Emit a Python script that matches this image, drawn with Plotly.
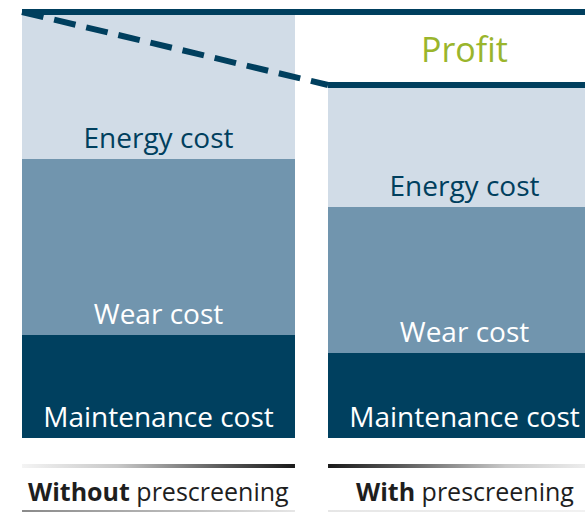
import plotly.graph_objects as go

# ---- data (arbitrary units) ----
scenarios = ["Without prescreening", "With prescreening"]
scenario_bold = ["Without", "With"]
scenario_rest = ["prescreening", "prescreening"]
maintenance = [103, 85]
wear = [176, 146]
energy = [147, 122]
revenue = 426
segment_names = ["Maintenance cost", "Wear cost", "Energy cost"]
profit_label = "Profit"

# ---- styles ----
NAVY = "#003f5e"
C_MAINT = "#00405f"
C_WEAR = "#7195ae"
C_ENERGY = "#d1dce7"
GREEN = "#9ab52c"
FONT = "Open Sans"
BAR_W = 0.892
xs = [0, 1]

W, H = 585, 513

fig = go.Figure()

segs = [
    (maintenance, C_MAINT, "white", segment_names[0]),
    (wear, C_WEAR, "white", segment_names[1]),
    (energy, C_ENERGY, NAVY, segment_names[2]),
]
for vals, col, tcol, name in segs:
    fig.add_trace(go.Bar(
        x=xs, y=vals, width=BAR_W, marker=dict(color=col, line=dict(width=0)),
        text=[name] * len(xs), textposition="inside", insidetextanchor="start",
        textangle=0, constraintext="none",
        insidetextfont=dict(family=FONT, size=28, color=tcol, weight=500),
        hoverinfo="skip", showlegend=False,
    ))

totals = [m + w + e for m, w, e in zip(maintenance, wear, energy)]
left0 = xs[0] - BAR_W / 2
left1 = xs[1] - BAR_W / 2

# revenue line across top
fig.add_trace(go.Scatter(x=[left0, 2], y=[revenue, revenue], mode="lines",
                         line=dict(color=NAVY, width=6), hoverinfo="skip", showlegend=False))
# dashed transition line
fig.add_trace(go.Scatter(x=[left0, left1], y=[totals[0], totals[1]], mode="lines",
                         line=dict(color=NAVY, width=6, dash="22px,11px"),
                         hoverinfo="skip", showlegend=False))
# right bar top line
fig.add_trace(go.Scatter(x=[left1, 2], y=[totals[1], totals[1]], mode="lines",
                         line=dict(color=NAVY, width=6), hoverinfo="skip", showlegend=False))

# gradient rules under bars
def grad_rule(x0, x1, ytop, ybot, scale):
    fig.add_trace(go.Scatter(
        x=[x0, x1, x1, x0, x0], y=[ytop, ytop, ybot, ybot, ytop],
        mode="lines", line=dict(width=0), fill="toself",
        fillgradient=dict(type="horizontal", colorscale=scale),
        hoverinfo="skip", showlegend=False))

grad_rule(xs[0] - BAR_W / 2, xs[0] + BAR_W / 2, -26, -30,
          [[0, "#f4f4f4"], [0.35, "#c8c8c8"], [0.75, "#555555"], [1, "#1a1a1a"]])
grad_rule(xs[1] - BAR_W / 2, xs[1] + BAR_W / 2, -26, -30,
          [[0, "#1a1a1a"], [0.25, "#555555"], [0.65, "#c8c8c8"], [1, "#f4f4f4"]])
grad_rule(xs[0] - BAR_W / 2, xs[0] + BAR_W / 2, -72, -74,
          [[0, "#8a8a8a"], [0.6, "#bdbdbd"], [1, "#e6e6e6"]])
grad_rule(xs[1] - BAR_W / 2, xs[1] + BAR_W / 2, -72, -74,
          [[0, "#e6e6e6"], [1, "#f2f2f2"]])

annotations = [
    dict(x=xs[1], y=(revenue + totals[1]) / 2, text=profit_label, showarrow=False,
         font=dict(family=FONT, size=34, color=GREEN, weight=500),
         xanchor="center", yanchor="middle"),
]
for x, b, r in zip(xs, scenario_bold, scenario_rest):
    annotations.append(dict(x=x, y=-53, text=f"<b>{b}</b> {r}", showarrow=False,
                            font=dict(family=FONT, size=25, color="#1e1e1e"),
                            xanchor="center", yanchor="middle"))

fig.update_layout(
    width=W, height=H, margin=dict(l=0, r=0, t=0, b=0),
    paper_bgcolor="white", plot_bgcolor="white",
    barmode="stack", showlegend=False,
    xaxis=dict(range=[-158.5 / 306, (W - 158.5) / 306], visible=False, fixedrange=True),
    yaxis=dict(range=[-75, 438], visible=False, fixedrange=True),
    annotations=annotations,
)

fig.write_html(
    "out.html",
    config={"displayModeBar": False},
    post_script="document.body.style.margin='0';document.documentElement.style.overflow='hidden';",
)
